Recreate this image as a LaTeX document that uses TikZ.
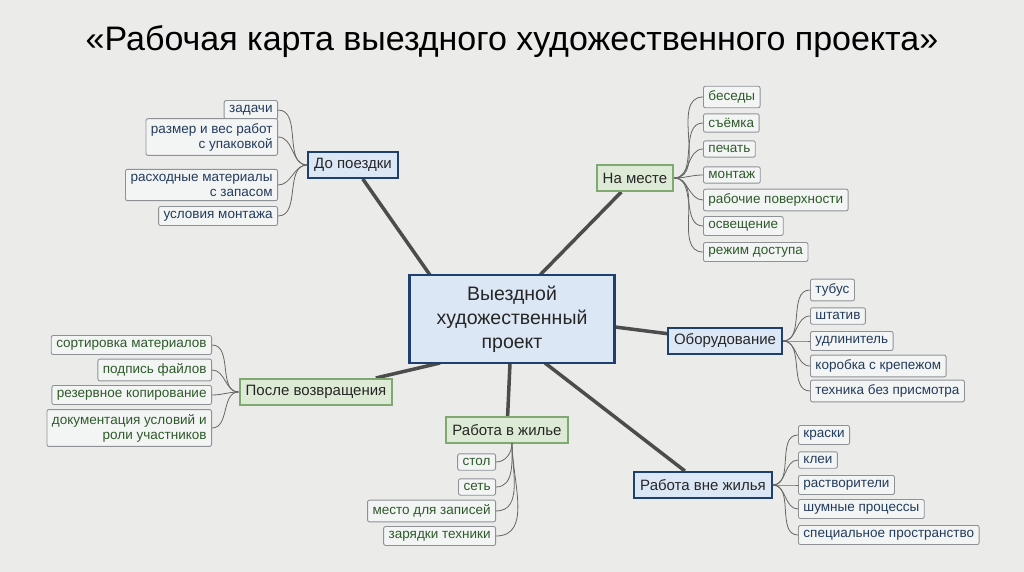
\documentclass[tikz,border=0pt]{standalone}
\usepackage{fontspec}
\setmainfont{Liberation Sans}
\definecolor{bg}{HTML}{EBEBEA}
\definecolor{bB}{HTML}{1F3F6E}
\definecolor{fB}{HTML}{DCE7F5}
\definecolor{bG}{HTML}{7FA872}
\definecolor{fG}{HTML}{DDEBD6}
\definecolor{tB}{HTML}{233B5C}
\definecolor{tG}{HTML}{2E5A2A}
\definecolor{lf}{HTML}{F3F4F4}
\definecolor{lb}{HTML}{8E9296}
\begin{document}
\begin{tikzpicture}[x=1pt,y=-1pt,
  leafB/.style={draw=lb,fill=lf,rounded corners=2pt,font=\fontsize{13.5}{15}\selectfont,text=tB,inner xsep=5pt,inner ysep=4.5pt,line width=0.9pt},
  leafG/.style={leafB,text=tG},
  brB/.style={draw=bB,fill=fB,line width=2pt,font=\fontsize{15}{17}\selectfont,inner xsep=6pt,minimum height=26pt,text=black!85},
  brG/.style={brB,draw=bG,fill=fG},
  main/.style={draw=gray!60!black,line width=3.5pt},
  tw/.style={draw=gray!80!black,line width=0.8pt}]
\fill[bg] (0,0) rectangle (1024,572);
\node (title) at (512,42) {\fontsize{34}{38}\selectfont «Рабочая карта выездного художественного проекта»};
\coordinate (c1) at (430,275);
\coordinate (c2) at (540,275);
\coordinate (c3) at (615,327);
\coordinate (c4) at (545,363);
\coordinate (c5) at (510,363);
\coordinate (c6) at (440,363);
\node[brB] (a) at (353,165) {До поездки};
\node[brG] (b) at (635,178) {На месте};
\node[brB] (d) at (725,341) {Оборудование};
\node[brB] (e) at (703,485) {Работа вне жилья};
\node[brG] (f) at (507,430) {Работа в жилье};
\node[brG] (g) at (316,392) {После возвращения};
\draw[main] (c1) -- (a);
\draw[main] (c2) -- (b);
\draw[main] (c3) -- (d);
\draw[main] (c4) -- (e);
\draw[main] (c5) -- (f);
\draw[main] (c6) -- (g);
\node[brB] at (a) {До поездки};
\node[brG] at (b) {На месте};
\node[brB] at (d) {Оборудование};
\node[brB] at (e) {Работа вне жилья};
\node[brG] at (f) {Работа в жилье};
\node[brG] at (g) {После возвращения};
\node[draw=bB,fill=fB,line width=2.5pt,minimum width=205pt,minimum height=88pt,align=center,font=\fontsize{19.5}{24}\selectfont,text=black!85] (c) at (512,319) {Выездной\\художественный\\проект};
\foreach \n/\y/\t in {a1/110/задачи,a2/137/{размер и вес работ\\с упаковкой},a3/185/{расходные материалы\\с запасом},a4/216/условия монтажа}{
  \node[leafB,anchor=east,align=right] (\n) at (278,\y) {\t};
  \draw[tw] (a.west) to[out=180,in=0] (\n.east);}
\foreach \n/\y/\t in {b1/97/беседы,b2/123/съёмка,b3/149/печать,b4/175/монтаж,b5/200/рабочие поверхности,b6/226/освещение,b7/252/режим доступа}{
  \node[leafG,anchor=west] (\n) at (703,\y) {\t};
  \draw[tw] (b.east) to[out=0,in=180] (\n.west);}
\foreach \n/\y/\t in {d1/290/тубус,d2/316/штатив,d3/341/удлинитель,d4/366/коробка с крепежом,d5/391/техника без присмотра}{
  \node[leafB,anchor=west] (\n) at (810,\y) {\t};
  \draw[tw] (d.east) to[out=0,in=180] (\n.west);}
\foreach \n/\y/\t in {e1/435/краски,e2/460/клеи,e3/485/растворители,e4/509/шумные процессы,e5/535/специальное пространство}{
  \node[leafB,anchor=west] (\n) at (798,\y) {\t};
  \draw[tw] (e.east) to[out=0,in=180] (\n.west);}
\coordinate (fs) at (512,443);
\foreach \n/\y/\t in {f1/462/стол,f2/487/сеть,f3/511/место для записей,f4/536/зарядки техники}{
  \node[leafG,anchor=east] (\n) at (496,\y) {\t};
  \draw[tw] (fs) to[out=-90,in=0] (\n.east);}
\foreach \n/\y/\t in {g1/345/сортировка материалов,g2/370/подпись файлов,g3/395/резервное копирование,g4/428/{документация условий и\\роли участников}}{
  \node[leafG,anchor=east,align=right] (\n) at (212,\y) {\t};
  \draw[tw] (g.west) to[out=180,in=0] (\n.east);}
\end{tikzpicture}
\end{document}
